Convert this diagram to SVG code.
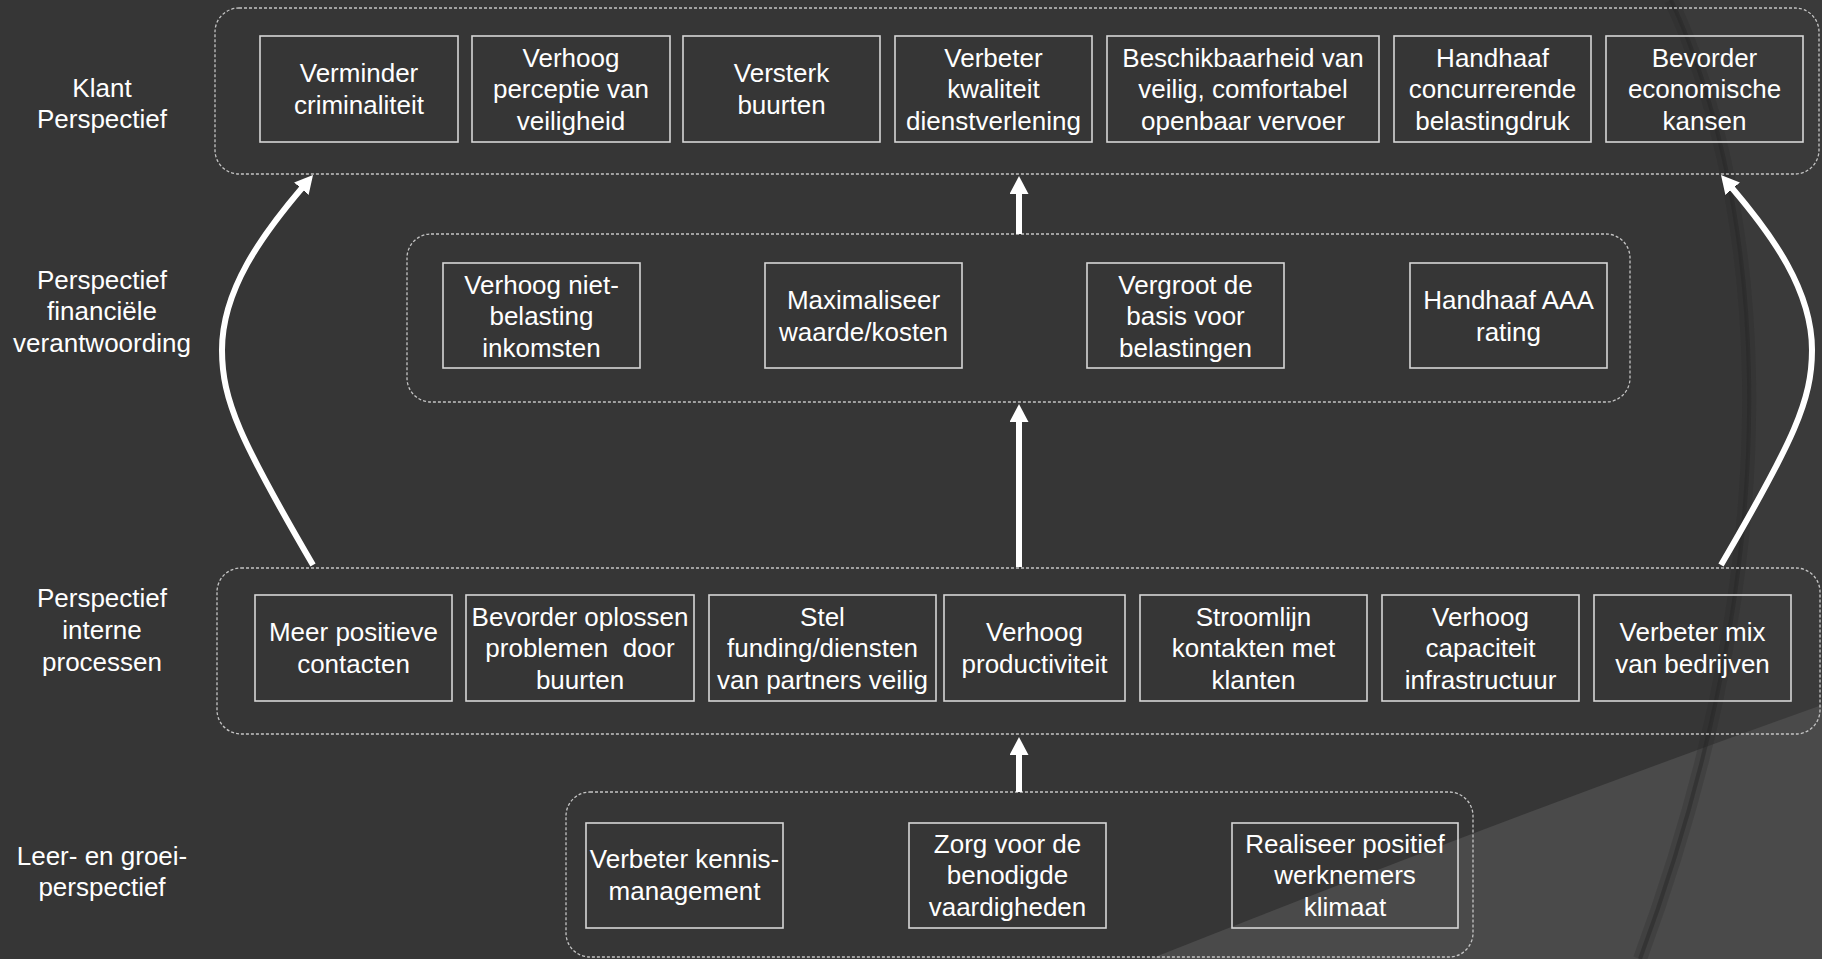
<svg xmlns="http://www.w3.org/2000/svg" width="1822" height="959" viewBox="0 0 1822 959">
  <style>
    .lane { fill: none; stroke: #c4c4c4; stroke-width: 1.3; stroke-dasharray: 3 2; }
    .box { fill: none; stroke: #d6d6d6; stroke-width: 1.6; }
    .t { font-family: "Liberation Sans", Arial, sans-serif; font-size: 26px; fill: #ffffff; text-anchor: middle; }
    .arrow { fill: none; stroke: #ffffff; stroke-width: 6; marker-end: url(#head); }
  </style>
  <defs>
    <marker id="head" markerUnits="userSpaceOnUse" markerWidth="18" markerHeight="19" viewBox="0 0 18 19" refX="1" refY="9.5" orient="auto">
      <path d="M0,0 L18,9.5 L0,19 Z" fill="#ffffff"/>
    </marker>
  </defs>

  <!-- background with theme curves -->
  <rect width="1822" height="959" fill="#363636"/>
  <path d="M1671,0 C1750,170 1810,500 1640,959 L1822,959 L1822,0 Z" fill="#ffffff" fill-opacity="0.025"/>
  <path d="M1150,959 Q1500,820 1822,705 L1822,959 Z" fill="#4a4a4a"/>
  <path d="M1671,0 C1750,170 1810,500 1640,959" fill="none" stroke="#262626" stroke-opacity="0.25" stroke-width="14"/>
  <path d="M1671,0 C1750,170 1810,500 1640,959" fill="none" stroke="#262626" stroke-opacity="0.45" stroke-width="4"/>

  <!-- perspective labels -->
  <g id="labels">
    <text class="t" x="102" y="97">Klant</text>
    <text class="t" x="102" y="128">Perspectief</text>
    <text class="t" x="102" y="289">Perspectief</text>
    <text class="t" x="102" y="320">financiële</text>
    <text class="t" x="102" y="352">verantwoording</text>
    <text class="t" x="102" y="607">Perspectief</text>
    <text class="t" x="102" y="639">interne</text>
    <text class="t" x="102" y="671">processen</text>
    <text class="t" x="102" y="865">Leer- en groei-</text>
    <text class="t" x="102" y="896">perspectief</text>
  </g>

  <!-- lanes -->
  <g id="lanes">
    <rect id="lane-klant" class="lane" x="215" y="8" width="1604" height="166" rx="24"/>
    <rect id="lane-financieel" class="lane" x="407" y="234" width="1223" height="168" rx="24"/>
    <rect id="lane-intern" class="lane" x="217" y="568" width="1603" height="166" rx="24"/>
    <rect id="lane-leren" class="lane" x="566" y="792" width="907" height="165" rx="24"/>
  </g>

  <!-- connectors -->
  <g id="connectors">
    <path class="arrow" d="M1019,234 L1019,193"/>
    <path class="arrow" d="M1019,567 L1019,421"/>
    <path class="arrow" d="M1019,792 L1019,754"/>
    <path class="arrow" d="M313,565 C240,440 222,400 222,350 C222,290 262,235 302,188"/>
    <path class="arrow" d="M1721,565 C1794,440 1812,400 1812,350 C1812,290 1772,235 1732,188"/>
  </g>

  <!-- customer perspective -->
  <g id="n-criminaliteit"><rect class="box" x="260" y="36" width="198" height="106"/>
    <text class="t" x="359" y="82">Verminder</text><text class="t" x="359" y="114">criminaliteit</text></g>
  <g id="n-perceptie"><rect class="box" x="472" y="36" width="198" height="106"/>
    <text class="t" x="571" y="66.5">Verhoog</text><text class="t" x="571" y="98">perceptie van</text><text class="t" x="571" y="129.5">veiligheid</text></g>
  <g id="n-buurten"><rect class="box" x="683" y="36" width="197" height="106"/>
    <text class="t" x="781.5" y="82">Versterk</text><text class="t" x="781.5" y="114">buurten</text></g>
  <g id="n-dienstverlening"><rect class="box" x="895" y="36" width="197" height="106"/>
    <text class="t" x="993.5" y="66.5">Verbeter</text><text class="t" x="993.5" y="98">kwaliteit</text><text class="t" x="993.5" y="129.5">dienstverlening</text></g>
  <g id="n-vervoer"><rect class="box" x="1107" y="36" width="272" height="106"/>
    <text class="t" x="1243" y="66.5">Beschikbaarheid van</text><text class="t" x="1243" y="98">veilig, comfortabel</text><text class="t" x="1243" y="129.5">openbaar vervoer</text></g>
  <g id="n-belastingdruk"><rect class="box" x="1394" y="36" width="197" height="106"/>
    <text class="t" x="1492.5" y="66.5">Handhaaf</text><text class="t" x="1492.5" y="98">concurrerende</text><text class="t" x="1492.5" y="129.5">belastingdruk</text></g>
  <g id="n-kansen"><rect class="box" x="1606" y="36" width="197" height="106"/>
    <text class="t" x="1704.5" y="66.5">Bevorder</text><text class="t" x="1704.5" y="98">economische</text><text class="t" x="1704.5" y="129.5">kansen</text></g>

  <!-- financial perspective -->
  <g id="n-inkomsten"><rect class="box" x="443" y="263" width="197" height="105"/>
    <text class="t" x="541.5" y="293.5">Verhoog niet-</text><text class="t" x="541.5" y="325">belasting</text><text class="t" x="541.5" y="356.5">inkomsten</text></g>
  <g id="n-waarde"><rect class="box" x="765" y="263" width="197" height="105"/>
    <text class="t" x="863.5" y="309">Maximaliseer</text><text class="t" x="863.5" y="341">waarde/kosten</text></g>
  <g id="n-basis"><rect class="box" x="1087" y="263" width="197" height="105"/>
    <text class="t" x="1185.5" y="293.5">Vergroot de</text><text class="t" x="1185.5" y="325">basis voor</text><text class="t" x="1185.5" y="356.5">belastingen</text></g>
  <g id="n-rating"><rect class="box" x="1410" y="263" width="197" height="105"/>
    <text class="t" x="1508.5" y="309">Handhaaf AAA</text><text class="t" x="1508.5" y="341">rating</text></g>

  <!-- internal processes -->
  <g id="n-contacten"><rect class="box" x="255" y="595" width="197" height="106"/>
    <text class="t" x="353.5" y="641">Meer positieve</text><text class="t" x="353.5" y="673">contacten</text></g>
  <g id="n-problemen"><rect class="box" x="466" y="595" width="228" height="106"/>
    <text class="t" x="580" y="625.5">Bevorder oplossen</text><text class="t" x="580" y="657" xml:space="preserve">problemen  door</text><text class="t" x="580" y="688.5">buurten</text></g>
  <g id="n-funding"><rect class="box" x="709" y="595" width="227" height="106"/>
    <text class="t" x="822.5" y="625.5">Stel</text><text class="t" x="822.5" y="657">funding/diensten</text><text class="t" x="822.5" y="688.5">van partners veilig</text></g>
  <g id="n-productiviteit"><rect class="box" x="944" y="595" width="181" height="106"/>
    <text class="t" x="1034.5" y="641">Verhoog</text><text class="t" x="1034.5" y="673">productiviteit</text></g>
  <g id="n-stroomlijn"><rect class="box" x="1140" y="595" width="227" height="106"/>
    <text class="t" x="1253.5" y="625.5">Stroomlijn</text><text class="t" x="1253.5" y="657">kontakten met</text><text class="t" x="1253.5" y="688.5">klanten</text></g>
  <g id="n-infrastructuur"><rect class="box" x="1382" y="595" width="197" height="106"/>
    <text class="t" x="1480.5" y="625.5">Verhoog</text><text class="t" x="1480.5" y="657">capaciteit</text><text class="t" x="1480.5" y="688.5">infrastructuur</text></g>
  <g id="n-bedrijven"><rect class="box" x="1594" y="595" width="197" height="106"/>
    <text class="t" x="1692.5" y="641">Verbeter mix</text><text class="t" x="1692.5" y="673">van bedrijven</text></g>

  <!-- learning and growth -->
  <g id="n-kennis"><rect class="box" x="586" y="823" width="197" height="105"/>
    <text class="t" x="684.5" y="868">Verbeter kennis-</text><text class="t" x="684.5" y="900">management</text></g>
  <g id="n-vaardigheden"><rect class="box" x="909" y="823" width="197" height="105"/>
    <text class="t" x="1007.5" y="852.5">Zorg voor de</text><text class="t" x="1007.5" y="884">benodigde</text><text class="t" x="1007.5" y="915.5">vaardigheden</text></g>
  <g id="n-klimaat"><rect class="box" x="1232" y="823" width="226" height="105"/>
    <text class="t" x="1345" y="852.5">Realiseer positief</text><text class="t" x="1345" y="884">werknemers</text><text class="t" x="1345" y="915.5">klimaat</text></g>
</svg>
